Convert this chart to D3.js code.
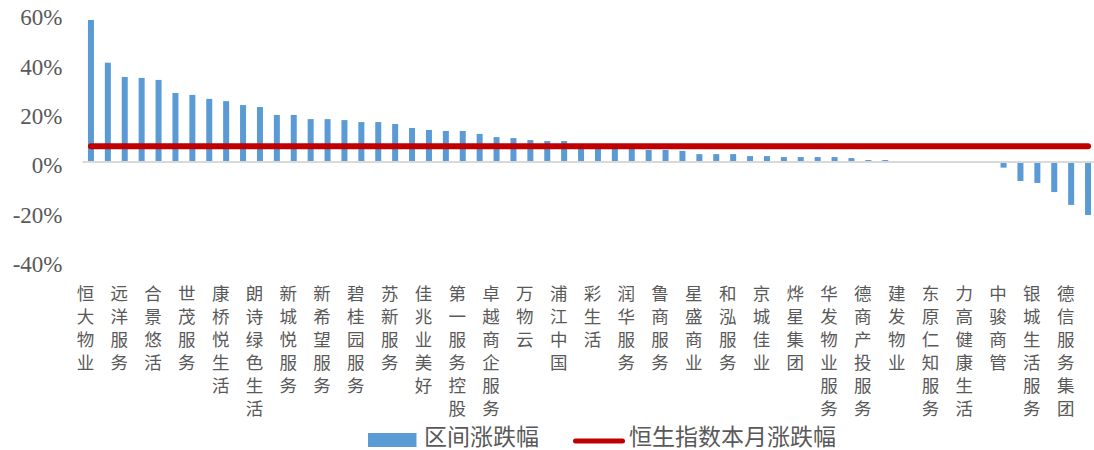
<!DOCTYPE html>
<html>
<head>
<meta charset="utf-8">
<script src="https://cdn.jsdelivr.net/npm/d3@7/dist/d3.min.js"></script>
<style>
  html, body { margin: 0; padding: 0; background: #fff; }
  svg { display: block; }
</style>
</head>
<body>
<svg id="chart" width="1094" height="450"></svg>
<script>
// ---- data ----
// labels shown on the axis (every other category)
const shownLabels = [
  "恒大物业", "远洋服务", "合景悠活", "世茂服务", "康桥悦生活", "朗诗绿色生活",
  "新城悦服务", "新希望服务", "碧桂园服务", "苏新服务", "佳兆业美好", "第一服务控股",
  "卓越商企服务", "万物云", "浦江中国", "彩生活", "润华服务", "鲁商服务",
  "星盛商业", "和泓服务", "京城佳业", "烨星集团", "华发物业服务", "德商产投服务",
  "建发物业", "东原仁知服务", "力高健康生活", "中骏商管", "银城生活服务", "德信服务集团"
];
// 区间涨跌幅 (%) for all 60 companies, ranked
const rangeChange = [
  57.6, 40.3, 34.5, 34.1, 33.3, 28.0, 27.2, 25.6, 24.7, 23.1,
  22.3, 19.1, 19.1, 17.4, 17.4, 17.0, 16.2, 16.2, 15.4, 13.8,
  13.0, 12.6, 12.6, 11.4, 10.1, 9.7, 8.9, 8.5, 8.5, 7.3,
  6.9, 6.5, 6.1, 4.9, 4.9, 4.5, 3.2, 3.2, 3.2, 2.4,
  2.4, 2.0, 2.0, 2.0, 2.0, 1.6, 0.8, 0.8, 0, 0,
  0, 0, 0, 0, -2.3, -7.7, -8.5, -12.2, -17.4, -21.5
];
// 恒生指数本月涨跌幅 (%)
const hsiMonthly = 6.4;
const yTicks = [-40, -20, 0, 20, 40, 60];
const legendNames = ["区间涨跌幅", "恒生指数本月涨跌幅"];

// ---- chart ----
const svg = d3.select("#chart");
const plotLeft = 82.5, plotRight = 1096.5;
const idx = d3.range(rangeChange.length);

const x = d3.scaleBand().domain(idx).range([plotLeft, plotRight]).paddingInner(0.645).paddingOuter(0.3225);
const y = d3.scaleLinear().domain([-40, 60]).range([260.6, 14.1]);
const cx = i => x(i) + x.bandwidth() / 2;

const gray = "#595959";

// y axis labels
const yAxis = d3.axisLeft(y).tickValues(yTicks).tickFormat(d => d + "%").tickSize(0).tickPadding(20);
const gy = svg.append("g").attr("transform", `translate(${plotLeft},0)`).call(yAxis);
gy.select(".domain").remove();
gy.selectAll("text")
  .attr("fill", gray)
  .style("font-family", "'Liberation Serif', 'Times New Roman', serif")
  .style("font-size", "23px")
  .attr("dy", "0.47em");

// bars
svg.append("g").selectAll("rect")
  .data(idx)
  .join("rect")
  .attr("x", i => x(i))
  .attr("width", x.bandwidth())
  .attr("y", i => y(Math.max(0, rangeChange[i])))
  .attr("height", i => Math.abs(y(rangeChange[i]) - y(0)))
  .attr("fill", "#5B9BD5");

// zero axis line
svg.append("line")
  .attr("x1", plotLeft).attr("x2", plotRight)
  .attr("y1", y(0)).attr("y2", y(0))
  .attr("stroke", "#D9D9D9").attr("stroke-width", 2);

// HSI line
const lineGen = d3.line().x(d => cx(d)).y(() => y(hsiMonthly));
svg.append("path")
  .datum([idx[0], idx[idx.length - 1]])
  .attr("d", lineGen)
  .attr("fill", "none")
  .attr("stroke", "#C00000")
  .attr("stroke-width", 6)
  .attr("stroke-linecap", "round");

// x labels (stacked vertical text, every other category)
const labelG = svg.append("g");
shownLabels.forEach((name, k) => {
  const i = k * 2;
  const t = labelG.append("text")
    .attr("fill", gray)
    .style("font-family", "'Noto Sans CJK SC', sans-serif")
    .style("font-size", "17.5px")
    .attr("text-anchor", "middle");
  Array.from(name).forEach((ch, j) => {
    t.append("tspan")
      .attr("x", cx(i) - 5.5)
      .attr("y", 292.5 + j * 22.9)
      .attr("dominant-baseline", "central")
      .text(ch);
  });
});

// legend
const lg = svg.append("g");
lg.append("rect").attr("x", 368).attr("y", 433).attr("width", 48.5).attr("height", 14).attr("fill", "#5B9BD5");
lg.append("text").attr("x", 424).attr("y", 434.5)
  .attr("dominant-baseline", "central")
  .attr("fill", gray)
  .style("font-family", "'Noto Sans CJK SC', sans-serif")
  .style("font-size", "23px")
  .text(legendNames[0]);
lg.append("line").attr("x1", 575.5).attr("x2", 622.5).attr("y1", 441).attr("y2", 441)
  .attr("stroke", "#C00000").attr("stroke-width", 5).attr("stroke-linecap", "round");
lg.append("text").attr("x", 629).attr("y", 434.5)
  .attr("dominant-baseline", "central")
  .attr("fill", gray)
  .style("font-family", "'Noto Sans CJK SC', sans-serif")
  .style("font-size", "23px")
  .text(legendNames[1]);
</script>
</body>
</html>
